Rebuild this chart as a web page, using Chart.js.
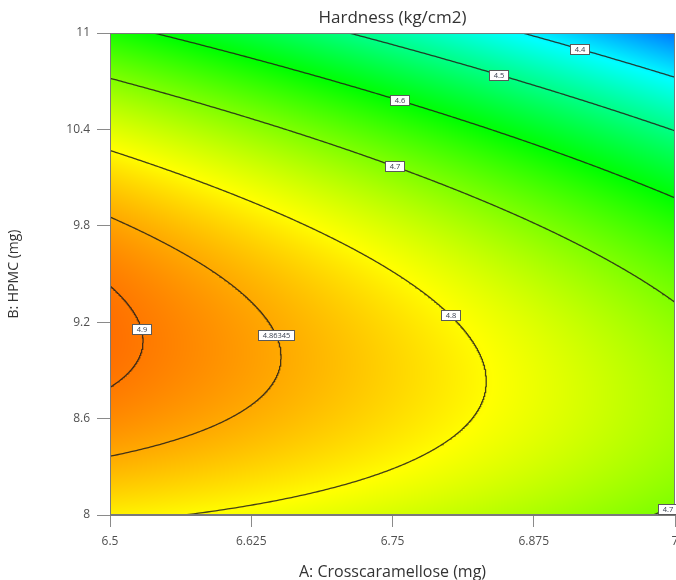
<!DOCTYPE html>
<html>
<head>
<meta charset="utf-8">
<script src="https://cdn.jsdelivr.net/npm/chart.js@4/dist/chart.umd.min.js"></script>
<style>
  html, body { margin: 0; padding: 0; background: #fff; }
  #wrap { width: 676px; height: 580px; }
</style>
</head>
<body>
<div id="wrap"><canvas id="c" width="676" height="580"></canvas></div>
<script>
// Axis ticks (actual units)
const xTicks = [6.5, 6.625, 6.75, 6.875, 7];
const yTicks = [8, 8.6, 9.2, 9.8, 10.4, 11];
const xRange = [6.5, 7];
const yRange = [8, 11];

// Quadratic response-surface model for Hardness, in coded factors
// A = (Crosscaramellose - 6.75) / 0.25, B = (HPMC - 9.5) / 1.5
const modelTerms = ['Intercept', 'A', 'B', 'AB', 'A²', 'B²'];
const modelCoefs = [4.8015, -0.1081, -0.1445, -0.0504, -0.0138, -0.181];

// Contour levels drawn as lines
const contourLevels = [4.4, 4.5, 4.6, 4.7, 4.8, 4.86345, 4.9];

// Contour labels: level and the HPMC value where each tag sits on its line
const labelLevels = [4.4, 4.5, 4.6, 4.7, 4.8, 4.86345, 4.9, 4.7];
const labelHPMC = [10.9, 10.74, 10.58, 10.17, 9.245, 9.12, 9.16, 8.04];

const coef = Object.fromEntries(modelTerms.map((t, i) => [t, modelCoefs[i]]));
const codeA = v => (v - 6.75) / 0.25;
const codeB = v => (v - 9.5) / 1.5;
const uncodeA = a => 6.75 + 0.25 * a;

function hardness(A, B) {
  const a = codeA(A), b = codeB(B);
  return coef['Intercept'] + coef['A'] * a + coef['B'] * b + coef['AB'] * a * b +
         coef['A²'] * a * a + coef['B²'] * b * b;
}

// Crosscaramellose value on a contour at a given HPMC (null when it has none)
function contourA(level, B) {
  const b = codeB(B);
  const c2 = coef['A²'];
  const p = coef['A'] + coef['AB'] * b;
  const q = coef['Intercept'] + coef['B'] * b + coef['B²'] * b * b - level;
  const disc = p * p - 4 * c2 * q;
  if (disc < 0) return null;
  const den = -p + Math.sqrt(disc);
  if (den === 0) return null;
  const a = 2 * q / den;
  if (a < -1.6 || a > 1.6) return null;
  return uncodeA(a);
}

function contourPoints(level) {
  const pts = [];
  const n = 800;
  for (let i = 0; i <= n; i++) {
    const B = yRange[0] + (yRange[1] - yRange[0]) * i / n;
    const A = contourA(level, B);
    pts.push(A === null ? { x: 6.75, y: null } : { x: A, y: B });
  }
  return pts;
}

// value range of the surface over the design space, for the colour ramp
let vMin = Infinity, vMax = -Infinity;
for (let i = 0; i <= 100; i++) {
  for (let j = 0; j <= 100; j++) {
    const v = hardness(xRange[0] + 0.5 * i / 100, yRange[0] + 3 * j / 100);
    if (v < vMin) vMin = v;
    if (v > vMax) vMax = v;
  }
}

function hsvToRgb(h) {
  const c = 1, hp = h / 60, x = c * (1 - Math.abs((hp % 2) - 1));
  let r = 0, g = 0, b = 0;
  if (hp < 1) { r = c; g = x; }
  else if (hp < 2) { r = x; g = c; }
  else if (hp < 3) { g = c; b = x; }
  else if (hp < 4) { g = x; b = c; }
  else if (hp < 5) { r = x; b = c; }
  else { r = c; b = x; }
  return [r * 255, g * 255, b * 255];
}
const HUE_LOW = 212, HUE_HIGH = 26;
function colourFor(v) {
  const f = Math.max(0, Math.min(1, (v - vMin) / (vMax - vMin)));
  return hsvToRgb(HUE_LOW + (HUE_HIGH - HUE_LOW) * f);
}

const surfacePlugin = {
  id: 'surface',
  beforeDatasetsDraw(chart) {
    const { ctx, chartArea: ca, scales } = chart;
    const w = Math.round(ca.right - ca.left), h = Math.round(ca.bottom - ca.top);
    const img = ctx.createImageData(w, h);
    for (let py = 0; py < h; py++) {
      const B = scales.y.getValueForPixel(ca.top + py + 0.5);
      for (let px = 0; px < w; px++) {
        const A = scales.x.getValueForPixel(ca.left + px + 0.5);
        const [r, g, b] = colourFor(hardness(A, B));
        const k = (py * w + px) * 4;
        img.data[k] = r; img.data[k + 1] = g; img.data[k + 2] = b; img.data[k + 3] = 255;
      }
    }
    ctx.putImageData(img, Math.round(ca.left), Math.round(ca.top));
  },
  afterDatasetsDraw(chart) {
    const { ctx, chartArea: ca, scales } = chart;
    ctx.save();
    ctx.strokeStyle = '#7a7a7a';
    ctx.lineWidth = 1;
    ctx.strokeRect(ca.left + 0.5, ca.top + 0.5, ca.right - ca.left - 1, ca.bottom - ca.top - 1);
    ctx.font = '7.5px "Open Sans", sans-serif';
    ctx.textAlign = 'center';
    ctx.textBaseline = 'middle';
    labelLevels.forEach((lv, i) => {
      const B = labelHPMC[i];
      const A = contourA(lv, B);
      if (A === null) return;
      const x = scales.x.getPixelForValue(A), y = scales.y.getPixelForValue(B);
      const txt = String(lv);
      const tw = ctx.measureText(txt).width;
      const bw = Math.round(tw + 8), bh = 10;
      const bx = Math.round(x - bw / 2) + 0.5, by = Math.round(y - bh / 2) + 0.5;
      ctx.fillStyle = '#ffffff';
      ctx.fillRect(bx, by, bw, bh);
      ctx.strokeStyle = '#5a5a5a';
      ctx.strokeRect(bx, by, bw, bh);
      ctx.fillStyle = '#3a4150';
      ctx.fillText(txt, bx + bw / 2, by + bh / 2 + 0.5);
    });
    ctx.restore();
  }
};

const fontFamily = '"Open Sans", "Segoe UI", sans-serif';

new Chart(document.getElementById('c'), {
  type: 'scatter',
  data: {
    datasets: contourLevels.map(lv => ({
      label: String(lv),
      data: contourPoints(lv),
      showLine: true,
      spanGaps: false,
      borderColor: 'rgba(35,30,25,0.85)',
      borderWidth: 1.3,
      pointRadius: 0,
      tension: 0
    }))
  },
  options: {
    responsive: false,
    animation: false,
    events: [],
    layout: { padding: { left: 0, right: 1, top: 0, bottom: 0 } },
    plugins: {
      legend: { display: false },
      tooltip: { enabled: false },
      title: {
        display: true,
        text: 'Hardness (kg/cm2)',
        fullSize: false,
        color: '#333',
        font: { family: fontFamily, size: 17, weight: 'normal' },
        padding: { top: 8, bottom: 4.6 }
      }
    },
    scales: {
      x: {
        type: 'linear',
        min: xRange[0], max: xRange[1],
        afterBuildTicks: s => { s.ticks = xTicks.map(v => ({ value: v })); },
        afterFit: s => { s.height = 65; s.paddingLeft = 0; s.paddingRight = 0; },
        ticks: {
          callback: v => String(v),
          color: '#505050', padding: 7,
          font: { family: fontFamily, size: 12 },
          maxRotation: 0
        },
        grid: { drawOnChartArea: false, drawTicks: true, tickLength: 12, color: '#8a8a8a' },
        border: { display: true, color: '#7a7a7a' },
        title: {
          display: true, text: 'A: Crosscaramellose (mg)', color: '#333',
          font: { family: fontFamily, size: 16, lineHeight: 1.0 },
          padding: { top: 0, bottom: 0 }
        }
      },
      y: {
        type: 'linear',
        min: yRange[0], max: yRange[1],
        afterBuildTicks: s => { s.ticks = yTicks.map(v => ({ value: v })); },
        afterFit: s => { s.width = 110; s.paddingTop = 0; s.paddingBottom = 0; },
        ticks: {
          callback: v => String(v),
          color: '#505050', padding: 7,
          font: { family: fontFamily, size: 12 }
        },
        grid: { drawOnChartArea: false, drawTicks: true, tickLength: 13, color: '#8a8a8a' },
        border: { display: true, color: '#7a7a7a' },
        title: {
          display: true, text: 'B: HPMC (mg)', color: '#333',
          font: { family: fontFamily, size: 14, lineHeight: 1.2 },
          padding: { top: 6, bottom: 0 }
        }
      }
    }
  },
  plugins: [surfacePlugin]
});
</script>
</body>
</html>
